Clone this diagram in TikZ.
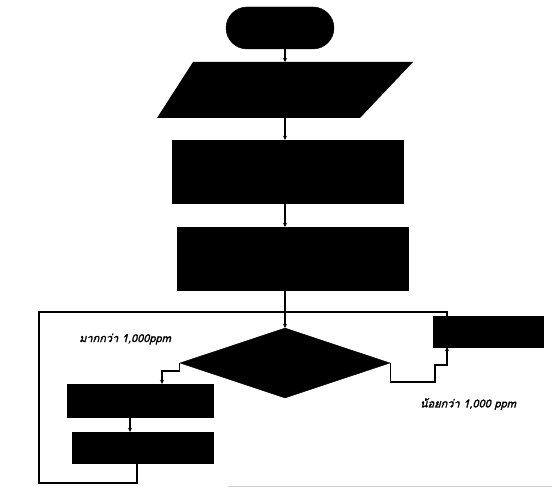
\documentclass[tikz,border=0pt]{standalone}
\usepackage{fontspec}
\newfontfamily\thaifont[Script=Thai,FakeSlant=0.25,FakeBold=2]{Loma}
\usetikzlibrary{shapes.geometric,arrows.meta}
\begin{document}
\begin{tikzpicture}[x=1pt,y=-1pt,
  blk/.style={fill=black,draw=black,inner sep=0pt},
  flow/.style={line width=1.2pt,draw=black},
  arr/.style={flow,-{Stealth[length=4pt,width=4pt]}},
  lbl/.style={font=\thaifont\fontsize{11}{13}\selectfont,inner sep=0pt}]
\path[use as bounding box,fill=white] (0,0) rectangle (552,492);
% shapes
\node[blk,rounded corners=21pt,minimum width=108pt,minimum height=42pt] (start) at (280,28) {};
\fill[black] (193,62) -- (413,62) -- (360,118) -- (157,118) -- cycle;
\coordinate (inT) at (285,62);
\coordinate (inB) at (285,118);
\node[blk,minimum width=231pt,minimum height=63pt] (r1) at (287.5,171.5) {};
\node[blk,minimum width=231pt,minimum height=63pt] (r2) at (292.5,258.5) {};
\node[blk,shape=diamond,minimum width=210pt,minimum height=70pt] (dec) at (285,363) {};
\node[blk,minimum width=110pt,minimum height=31pt] (rb) at (488,331.5) {};
\node[blk,minimum width=146pt,minimum height=33pt] (r3) at (140,400.5) {};
\node[blk,minimum width=141pt,minimum height=31pt] (r4) at (142.5,447.5) {};
% helper columns
\coordinate (col) at (285,0);
\coordinate (rbx) at (447,0);
\coordinate (lt) at (39,312);
\coordinate (r4x) at (137,0);
\coordinate (r3x) at (162,0);
\coordinate (c34) at (130,0);
% connectors
\draw[arr] (start.south -| col) -- (inT);
\draw[arr] (inB) -- (col |- r1.north);
\draw[arr] (col |- r1.south) -- (col |- r2.north);
\draw[arr] (col |- r2.south) -- (dec.north);
\draw[arr] (dec.east) |- (435,382) |- (447,365) -- (rbx |- rb.south);
\draw[flow] (rbx |- rb.north) |- (lt) |- (137,483) -- (r4x |- r4.south);
\draw[arr] (dec.west) |- (162,371) -- (r3x |- r3.north);
\draw[arr] (c34 |- r3.south) -- (c34 |- r4.north);
% labels
\node[lbl] (l1) at (125,339) {มากกว่า 1,000ppm};
\node[lbl] (l2) at (468,404) {น้อยกว่า 1,000 ppm};
% scan edge
\draw[gray!35,line width=0.8pt] (228,486) -- (552,486);
\end{tikzpicture}
\end{document}
